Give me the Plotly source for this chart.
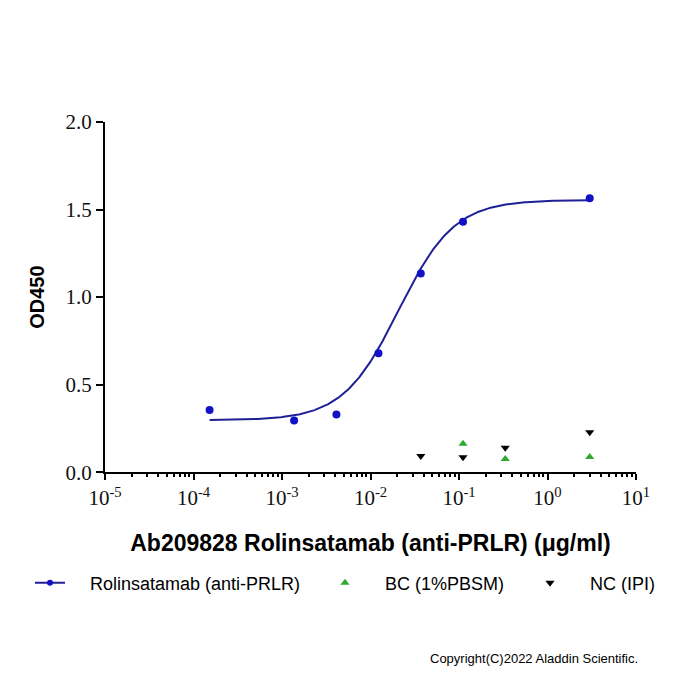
import numpy as np
import plotly.graph_objects as go

# --- data ---
conc_ab = [1.52e-4, 1.37e-3, 4.12e-3, 0.0123, 0.037, 0.111, 3.0]
od_ab = [0.355, 0.295, 0.330, 0.680, 1.135, 1.430, 1.565]

conc_bc = [0.111, 0.333, 3.0]
od_bc = [0.163, 0.075, 0.087]

conc_nc = [0.037, 0.111, 0.333, 3.0]
od_nc = [0.092, 0.085, 0.140, 0.228]

# 4PL fit parameters
fit_bottom = 0.296
fit_top = 1.555
fit_ec50 = 0.0208
fit_hill = 1.38

x_tickvals = [1e-5, 1e-4, 1e-3, 1e-2, 1e-1, 1e0, 1e1]
x_ticktext = ["10<sup>-5</sup>", "10<sup>-4</sup>", "10<sup>-3</sup>", "10<sup>-2</sup>",
              "10<sup>-1</sup>", "10<sup>0</sup>", "10<sup>1</sup>"]
y_tickvals = [0.0, 0.5, 1.0, 1.5, 2.0]
y_ticktext = ["0.0", "0.5", "1.0", "1.5", "2.0"]

legend_names = ["Rolinsatamab (anti-PRLR)", "BC (1%PBSM)", "NC (IPI)"]

xfit = np.logspace(np.log10(min(conc_ab)), np.log10(max(conc_ab)), 300)
yfit = fit_bottom + (fit_top - fit_bottom) / (1 + (fit_ec50 / xfit) ** fit_hill)

BLUE = "#1212c4"
NAVY = "#1f1f96"
GREEN = "#2ea82e"
PAD = "\u00a0" * 4

fig = go.Figure()
fig.add_trace(go.Scatter(x=xfit, y=yfit, mode="lines", line=dict(color=NAVY, width=2),
                         showlegend=False, hoverinfo="skip"))
fig.add_trace(go.Scatter(x=conc_ab, y=od_ab, mode="markers", name=legend_names[0],
                         marker=dict(color=BLUE, size=8), showlegend=False))
# legend proxy for line+marker
fig.add_trace(go.Scatter(x=[None], y=[None], mode="lines+markers", name=PAD + legend_names[0],
                         line=dict(color=NAVY, width=2), marker=dict(color=BLUE, size=6),
                         legend="legend"))
fig.add_trace(go.Scatter(x=conc_bc, y=od_bc, mode="markers", name=PAD + legend_names[1],
                         marker=dict(color=GREEN, size=8, symbol="triangle-up"), legend="legend2"))
fig.add_trace(go.Scatter(x=conc_nc, y=od_nc, mode="markers", name=PAD + legend_names[2],
                         marker=dict(color="black", size=8, symbol="triangle-down"), legend="legend3"))

legfont = dict(family="Arial, Liberation Sans, sans-serif", size=18, color="black")
common_leg = dict(orientation="h", xref="container", yref="container", yanchor="middle",
                  xanchor="left", font=legfont, bgcolor="rgba(0,0,0,0)", borderwidth=0)

fig.update_layout(
    width=700, height=700,
    margin=dict(l=105, r=64, t=122, b=225, pad=0),
    plot_bgcolor="white", paper_bgcolor="white",
    xaxis=dict(type="log", range=[-5, 1], showgrid=False, zeroline=False,
               showline=True, linecolor="black", linewidth=2,
               ticks="outside", ticklen=6, tickwidth=2, tickcolor="black",
               tickvals=x_tickvals, ticktext=x_ticktext,
               tickfont=dict(family="Liberation Serif, Times New Roman, serif", size=21, color="#111"),
               minor=dict(ticks="outside", ticklen=3, tickwidth=1.5, tickcolor="black", dtick="D1"),
               title=dict(text="<b>Ab209828 Rolinsatamab (anti-PRLR) (μg/ml)</b>",
                          font=dict(family="Arial, Liberation Sans, sans-serif", size=23, color="black"),
                          standoff=26)),
    yaxis=dict(range=[0, 2], showgrid=False, zeroline=False,
               showline=True, linecolor="black", linewidth=2,
               ticks="outside", ticklen=7, tickwidth=2, tickcolor="black",
               tickvals=y_tickvals, ticktext=y_ticktext,
               tickfont=dict(family="Liberation Serif, Times New Roman, serif", size=21, color="#111"),
               title=dict(text="<b>OD450</b>",
                          font=dict(family="Arial, Liberation Sans, sans-serif", size=20, color="black"),
                          standoff=16)),
    legend=dict(x=30 / 700, y=1 - 583 / 700, **common_leg),
    legend2=dict(x=325 / 700, y=1 - 583 / 700, **common_leg),
    legend3=dict(x=530 / 700, y=1 - 583 / 700, **common_leg),
    annotations=[dict(text="Copyright(C)2022 Aladdin Scientific.", xref="paper", yref="paper",
                      x=(640 - 105) / 531, y=-(663 - 475) / 353, xanchor="right", yanchor="middle",
                      showarrow=False,
                      font=dict(family="Arial, Liberation Sans, sans-serif", size=13, color="black"))],
)

fig.write_html("out.html")
